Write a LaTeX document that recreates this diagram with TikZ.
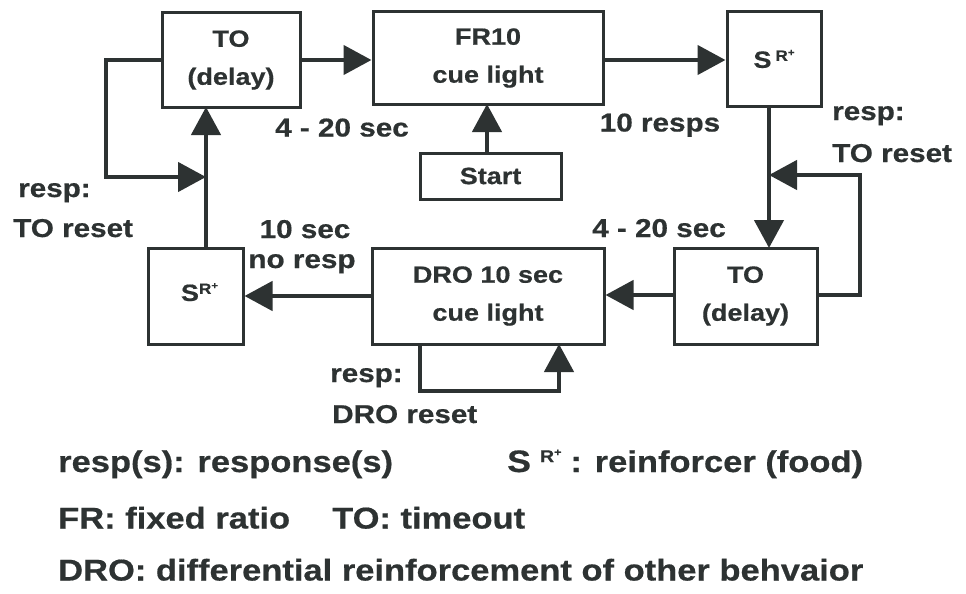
\documentclass[tikz,border=0pt]{standalone}
\usepackage{fontspec}
\setmainfont[FakeStretch=1.15,FakeBold=0.6]{Liberation Sans}
\usetikzlibrary{arrows.meta}
\definecolor{ink}{RGB}{45,50,50}
\newcommand{\bxfont}{\bfseries\fontsize{23.5}{38}\selectfont}
\newcommand{\lbfont}{\bfseries\fontsize{25.8}{30}\selectfont}
\newcommand{\lgfont}{\bfseries\fontsize{30}{34}\selectfont}
\newcommand{\SRsup}{\raisebox{7pt}{\fontsize{15}{15}\selectfont R\raisebox{5pt}{\fontsize{10}{10}\selectfont +}}}
\begin{document}
\begin{tikzpicture}[x=1pt,y=-1pt,
  box/.style={draw=ink, line width=3pt, inner sep=0pt, align=center, font=\bxfont, text=ink},
  lab/.style={inner sep=0pt, text height=18pt, text depth=0pt, font=\lbfont, text=ink},
  leg/.style={inner sep=0pt, text height=21pt, text depth=0pt, font=\lgfont, text=ink, anchor=west},
  arr/.style={draw=ink, line width=4.5pt, -{Triangle[length=28pt,width=29pt]}},
  wire/.style={draw=ink, line width=4.5pt}]
\useasboundingbox (0,0) rectangle (966,594);
\fill[white] (0,0) rectangle (966,594);

% boxes
\node[box, minimum width=138pt, minimum height=94pt] (to1) at (231,60) {TO\\(delay)};
\node[box, minimum width=230pt, minimum height=92pt] (fr) at (488,58) {FR10\\cue light};
\node[box, minimum width=94pt, minimum height=94pt] (sr1) at (774,59) {S\,\SRsup};
\node[box, minimum width=141pt, minimum height=46pt] (start) at (490.5,176) {Start};
\node[box, minimum width=143pt, minimum height=96pt] (to2) at (745.5,296) {TO\\(delay)};
\node[box, minimum width=232pt, minimum height=96pt] (dro) at (488,296) {DRO 10 sec\\cue light};
\node[box, minimum width=95pt, minimum height=96pt] (sr2) at (195.5,296) {\hspace*{8pt}\raisebox{8pt}{S\SRsup}};

% junction / corner coordinates
\coordinate (a1) at (206,248);
\coordinate (a2) at (206,107);
\coordinate (lc1) at (106,60);
\coordinate (lc2) at (106,177);
\coordinate (lj) at (206,177);
\coordinate (b1) at (769,106);
\coordinate (b2) at (769,248);
\coordinate (rc1) at (860,295);
\coordinate (rc2) at (860,175);
\coordinate (rj) at (769,175);
\coordinate (d1) at (420,344);
\coordinate (d2) at (420,391);
\coordinate (d3) at (559,391);
\coordinate (d4) at (559,344);
\coordinate (s1) at (487,153);
\coordinate (s2) at (487,104);

% connectors
\draw[arr] (to1.east |- 0,60) -- (fr.west |- 0,60);
\draw[arr] (fr.east |- 0,60) -- (sr1.west |- 0,60);
\draw[arr] (s1) -- (s2);
\draw[arr] (b1) -- (b2);
\draw[arr] (to2.east |- rc1) -- (rc1) -- (rc2) -- (rj);
\draw[arr] (to2.west |- 0,295) -- (dro.east |- 0,295);
\draw[arr] (dro.west |- 0,296) -- (sr2.east |- 0,296);
\draw[arr] (a1) -- (a2);
\draw[arr] (to1.west |- lc1) -- (lc1) -- (lc2) -- (lj);
\draw[arr] (d1) -- (d2) -- (d3) -- (d4);

% labels
\node[lab] (l1) at (342,127.5) {4 - 20 sec};
\node[lab] (l2) at (660,122.5) {10 resps};
\node[lab, anchor=west] (l3) at (832,111) {resp:};
\node[lab, anchor=west] (l4) at (832,153) {TO reset};
\node[lab, anchor=west] (l5) at (18,188) {resp:};
\node[lab, anchor=west] (l6) at (13,228) {TO reset};
\node[lab] (l7) at (305,229) {10 sec};
\node[lab] (l8) at (302,259) {no resp};
\node[lab] (l9) at (659,228) {4 - 20 sec};
\node[lab, anchor=west] (l10) at (330,373) {resp:};
\node[lab, anchor=west] (l11) at (332,414) {DRO reset};

% legend
\node[leg] (g1) at (58,461.5) {resp(s): response(s)};
\node[leg] (g2) at (507,461.5) {{\fontsize{31}{31}\selectfont S}\hspace{9pt}\raisebox{10pt}{\fontsize{17}{17}\selectfont R\raisebox{6pt}{\fontsize{11}{11}\selectfont +}}\hspace{9pt}: reinforcer (food)};
\node[leg] (g3) at (58,518) {FR: fixed ratio};
\node[leg] (g4) at (332,518) {TO: timeout};
\node[leg] (g5) at (58,570) {DRO: differential reinforcement of other behvaior};
\end{tikzpicture}
\end{document}
